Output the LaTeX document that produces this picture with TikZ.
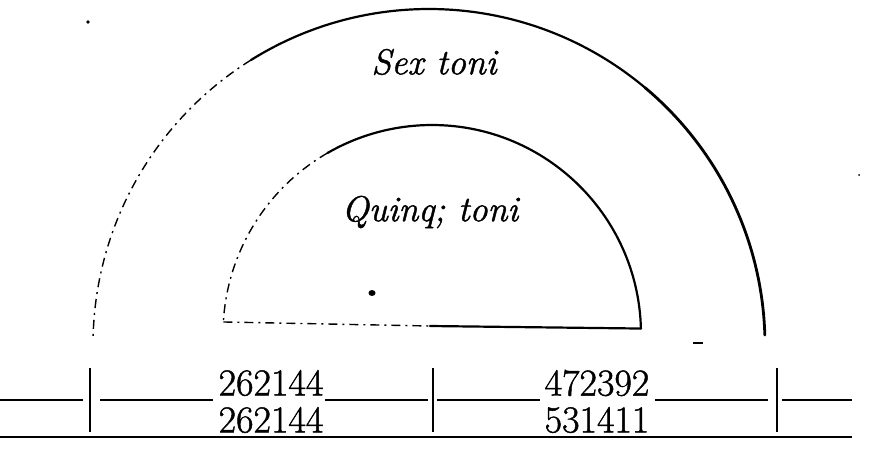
\documentclass[tikz,border=0pt]{standalone}
\usepackage{fontspec}
\newfontfamily\numfont[FakeBold=1.2]{Latin Modern Roman}
\usetikzlibrary{calc}
\begin{document}
\begin{tikzpicture}[x=1pt,y=-1pt,
  arcline/.style={line width=2.2pt,line cap=round},
  heavy/.style={line width=2.8pt,line cap=round},
  faint/.style={line width=1.4pt,dash pattern=on 9pt off 5pt on 2pt off 5pt},
  rule/.style={line width=1.6pt},
  bar/.style={line width=2.6pt},
  num/.style={inner sep=0pt,font=\fontsize{38}{38}\numfont},
  label/.style={inner sep=0pt,font=\fontsize{36}{36}\numfont\itshape}]
\useasboundingbox (0,0) rectangle (884,456);
% centres
\coordinate (oc) at (429,345);
\coordinate (ic) at (432,334);
% outer arc (Sex toni)
\draw[heavy] (oc) ++(-1.7:336) arc[start angle=-1.7,end angle=-50,radius=336];
\draw[arcline] (oc) ++(-50:336) arc[start angle=-50,end angle=-122,radius=336];
\draw[faint] (oc) ++(-122:336) arc[start angle=-122,end angle=-179.1,radius=336];
% inner half circle (Quinq; toni)
\coordinate (ir) at ($(ic)+(-1.5:209)$);
\draw[arcline] (ic) ++(-1.5:209) arc[start angle=-1.5,end angle=-120,radius=209];
\draw[faint] (ic) ++(-120:209) arc[start angle=-120,end angle=-176.7,radius=209] coordinate (il);
\draw[faint] (il) -- (430,326);
\draw[arcline] (430,326) -- (ir);
% labels
\node[label] (sex) at (434,62) {Sex toni};
\node[label] (quinq) at (430,212) {Quinq; toni};
% spots
\fill (372,293) ellipse[x radius=3.5pt,y radius=3pt];
\fill (88,22) circle[radius=1.8pt];
\draw[line width=1.8pt] (693,343) -- (703,343);
\fill (859,175) circle[radius=1pt];
% table verticals
\coordinate (v1t) at (90,368); \coordinate (v1b) at (90,432);
\coordinate (v2t) at (433,368); \coordinate (v2b) at (433,432);
\coordinate (v3t) at (777,368); \coordinate (v3b) at (777,432);
\draw[bar] (v1t) -- (v1b);
\draw[bar] (v2t) -- (v2b);
\draw[bar] (v3t) -- (v3b);
% middle rule, broken by the figures
\draw[rule] (0,400) -- (83,400);
\draw[rule] (100,400) -- (213,400);
\draw[rule] (325,400) -- (428,400);
\draw[rule] (437,400) -- (540,400);
\draw[rule] (655,400) -- (768,400);
\draw[rule] (782,400) -- (852,400);
% bottom rule
\draw[rule] (0,437) -- (852,437);
% numbers
\node[num] (a1) at (271,383) {262144};
\node[num] (b1) at (597,383) {472392};
\node[num] (a2) at (271,420) {262144};
\node[num] (b2) at (597,420) {531411};
\end{tikzpicture}
\end{document}
